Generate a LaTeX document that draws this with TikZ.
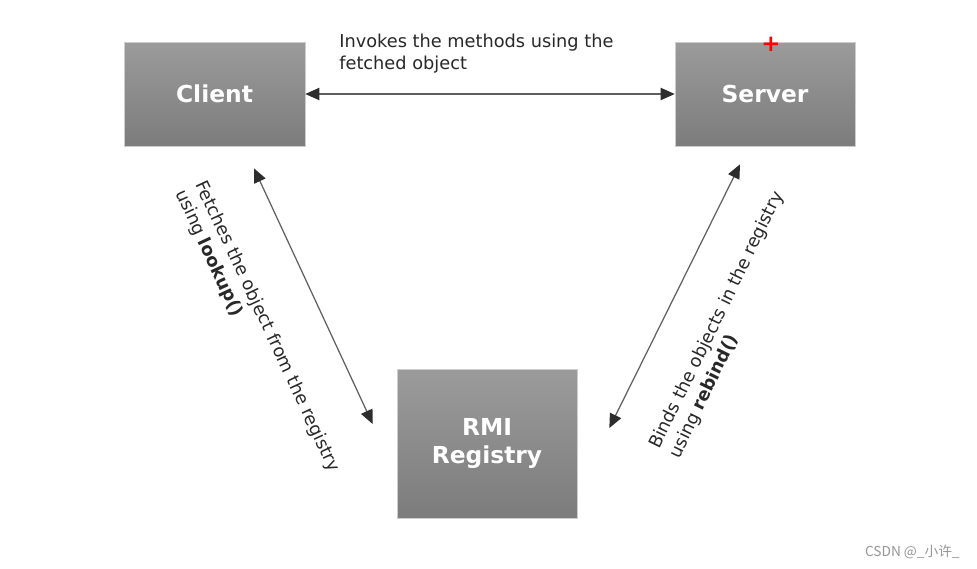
\documentclass[tikz,border=0pt]{standalone}
\usepackage{fontspec}
\setmainfont{DejaVu Sans}
\newfontfamily\cjk{Noto Sans CJK SC}
\usetikzlibrary{arrows.meta,calc}
\definecolor{boxtop}{RGB}{155,155,155}
\definecolor{boxbot}{RGB}{124,124,124}
\definecolor{boxline}{RGB}{205,205,205}
\definecolor{lnk}{RGB}{95,95,95}
\definecolor{tip}{RGB}{45,45,45}
\definecolor{txt}{RGB}{40,40,40}
\definecolor{wm}{RGB}{150,150,150}
\tikzset{
  box/.style={draw=boxline, line width=0.4pt, top color=boxtop, bottom color=boxbot,
    text=white, font=\fontsize{13.3}{16}\selectfont\bfseries, align=center, inner sep=0pt},
  link/.style={draw=lnk, line width=0.7pt,
    {Triangle[length=8pt,width=7pt,color=tip]}-{Triangle[length=8pt,width=7pt,color=tip]}},
  lbl/.style={text=txt, font=\fontsize{10.1}{12.4}\selectfont, align=left, inner sep=0pt}
}
\begin{document}
\begin{tikzpicture}[x=0.02cm,y=-0.02cm]
\useasboundingbox[fill=white] (0,0) rectangle (977,568);
\node[box, minimum width=3.62cm, minimum height=2.08cm] (client) at (214.5,94) {Client};
\node[box, minimum width=3.6cm, minimum height=2.08cm] (server) at (765,94) {Server};
\node[box, minimum width=3.6cm, minimum height=2.98cm] (reg) at (487,443.5) {RMI\\Registry};
\node[text=red, font=\fontsize{13}{13}\selectfont\bfseries, inner sep=0pt] (plus) at (771,44) {+};

\coordinate (la) at ($(client.south)+(39.5,22)$);
\coordinate (lb) at ($(reg.west)+(-24,-19.5)$);
\coordinate (ra) at ($(server.south)+(-25,18)$);
\coordinate (rb) at ($(reg.east)+(32,-15.5)$);

\draw[link] (client.east) -- (server.west);
\draw[link] (la) -- (lb);
\draw[link] (ra) -- (rb);

\node[lbl, anchor=north west] (top) at (339,34) {Invokes the methods using the\\fetched object};
\node[lbl, rotate=-65] (left) at (257,331) {Fetches the object from the registry\\using \textbf{lookup()}};
\node[lbl, rotate=64] (right) at (727,325) {Binds the objects in the registry\\using \textbf{rebind()}};

\node[text=wm, font=\cjk\fontsize{7.8}{10}\selectfont, anchor=east, inner sep=0pt] (wmark) at (960,552) {CSDN @\_小许\_};
\end{tikzpicture}
\end{document}
